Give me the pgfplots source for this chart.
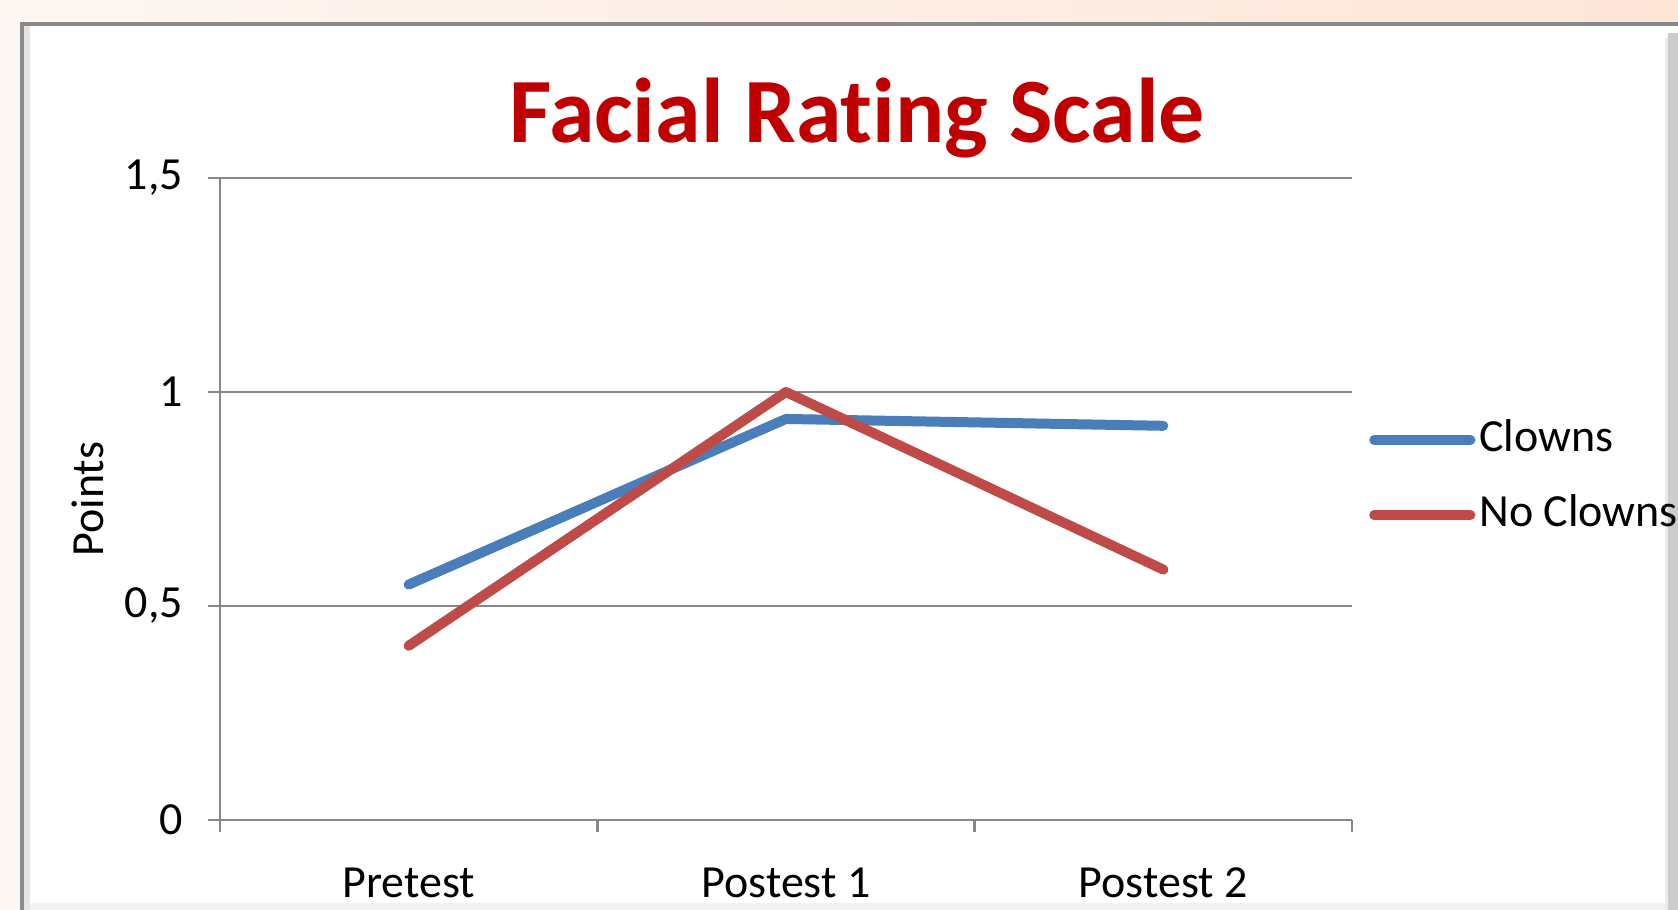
\documentclass[border=0pt]{standalone}
\usepackage{fontspec}
\setmainfont{Carlito}[Ligatures={NoCommon,NoContextual}]
\usepackage{pgfplots}
\pgfplotsset{compat=1.18}
\definecolor{cblue}{HTML}{4A7EBB}
\definecolor{cred}{HTML}{BE4B48}
\definecolor{ctitle}{HTML}{C00000}
\definecolor{cgrid}{HTML}{878787}
\definecolor{peachL}{HTML}{FDF7F3}
\definecolor{peachR}{HTML}{FDE5D8}
\definecolor{cborder}{HTML}{8A8A8A}

\pgfplotstableread{
x y
0 0.55
1 0.937
2 0.921
}\clowns
\pgfplotstableread{
x y
0 0.407
1 1.0
2 0.585
}\noclowns

\begin{document}
\begin{tikzpicture}
\begin{scope}[x=0.5pt,y=0.5pt]
\shade[left color=peachL, right color=peachR] (0,0) rectangle (1678,910);
\fill[white] (20,0) rectangle (1678,888);
\fill[black!10] (24,0) rectangle (30,884);
\fill[black!5] (30,0) rectangle (1668,7);
\fill[black!20] (1668,0) rectangle (1678,877);
\fill[black!8] (1665,0) rectangle (1668,872);
\draw[cborder, line width=2pt] (22,0) -- (22,886) -- (1678,886);
\node[anchor=base, text=ctitle, font=\fontsize{46}{55}\selectfont\bfseries] at (857,767) {Facial Rat\kern0pt ing Scale};
\end{scope}
\begin{axis}[
  at={(110pt,45pt)}, anchor=south west,
  scale only axis, width=566pt, height=321pt,
  xmin=-0.5, xmax=2.5, ymin=0, ymax=1.5,
  xtick={0,1,2}, xticklabels={Pretest, Postest 1, Postest 2},
  minor xtick={-0.5,0.5,1.5,2.5},
  ytick={0,0.5,1,1.5}, yticklabels={0,{0,5},1,{1,5}},
  axis x line*=bottom, axis y line*=left,
  ymajorgrids, grid style={cgrid, line width=1.4pt},
  axis line style={cgrid, line width=1.4pt},
  tick style={cgrid, line width=1.4pt},
  tick align=outside,
  major tick length=6pt, minor tick length=6pt,
  major x tick style={draw=none},
  ticklabel style={font=\fontsize{23}{27}\selectfont, text=black},
  xticklabel style={yshift=-14.5pt},
  yticklabel style={xshift=-9pt},
  ylabel={Points},
  ylabel style={at={(axis description cs:-0.1166,0.5)}, anchor=center, font=\fontsize{23}{27}\selectfont},
  clip=false,
  legend style={at={(axis description cs:1,0.5335)}, anchor=west, xshift=8.5pt,
    draw=none, fill=none, inner sep=0pt, row sep=13.5pt,
    font=\fontsize{23}{27}\selectfont,
    nodes={inner sep=2pt, text height=16pt, text depth=4pt}},
  legend cell align=left,
  legend image code/.code={\draw[#1, line cap=round] (0pt,0pt) -- (44.5pt,0pt); \path (0pt,0pt) -- (48pt,0pt);},
]
\addplot[cblue, line width=5pt, line cap=round, line join=round] table[x=x,y=y] {\clowns};
\addlegendentry{Clowns}
\addplot[cred, line width=5pt, line cap=round, line join=round] table[x=x,y=y] {\noclowns};
\addlegendentry{No Clowns}
\end{axis}
\pgfresetboundingbox
\useasboundingbox (0,0) rectangle (839pt,455pt);
\end{tikzpicture}
\end{document}
